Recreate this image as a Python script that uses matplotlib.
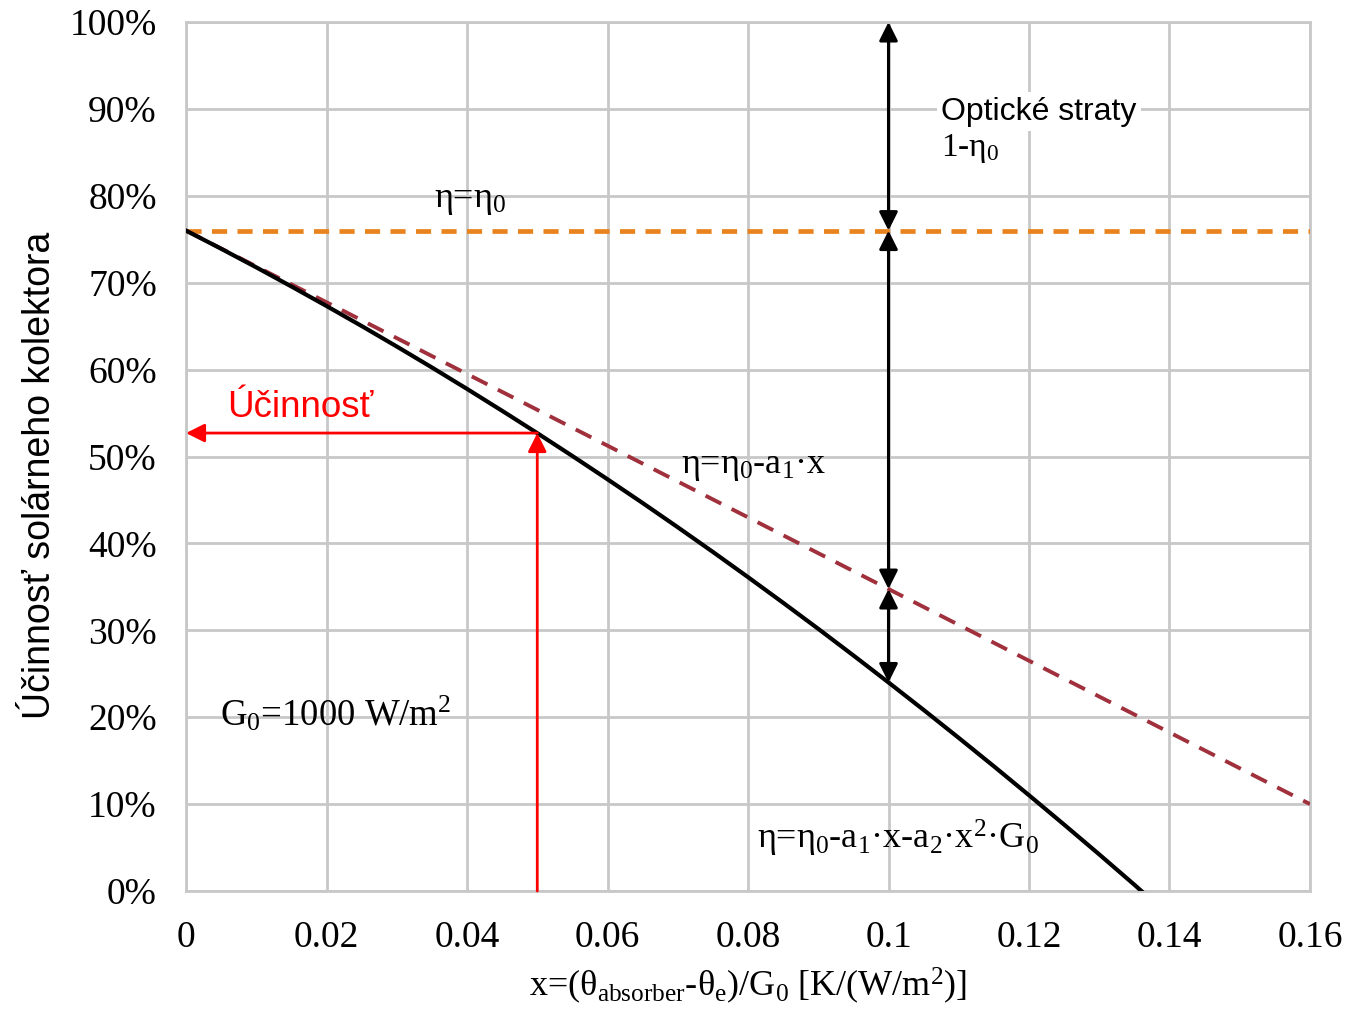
import numpy as np
import matplotlib
matplotlib.use("Agg")
import matplotlib.pyplot as plt

plt.rcParams['mathtext.fontset'] = 'custom'
plt.rcParams['mathtext.rm'] = 'Liberation Serif'
plt.rcParams['mathtext.it'] = 'Liberation Serif'
plt.rcParams['mathtext.bf'] = 'Liberation Serif:bold'

# data
x_ticks = [0, 0.02, 0.04, 0.06, 0.08, 0.10, 0.12, 0.14, 0.16]
x_tick_labels = ['0', '0.02', '0.04', '0.06', '0.08', '0.1', '0.12', '0.14', '0.16']
y_ticks = [0, 10, 20, 30, 40, 50, 60, 70, 80, 90, 100]

eta0_x = [0, 0.16]
eta0_y = [76, 76]

linear_x = [0, 0.16]
linear_y = [76, 10]

curve_x = [0, 0.005, 0.01, 0.015, 0.02, 0.025, 0.03, 0.035, 0.04, 0.045, 0.05,
           0.055, 0.06, 0.065, 0.07, 0.075, 0.08, 0.085, 0.09, 0.095, 0.10,
           0.105, 0.11, 0.115, 0.12, 0.125, 0.13, 0.135, 0.136]
curve_y = [76, 73.91, 71.77, 69.57, 67.32, 65.02, 62.66, 60.25, 57.78, 55.26, 52.69,
           50.06, 47.38, 44.65, 41.86, 39.02, 36.12, 33.17, 30.17, 27.11, 24.0,
           20.84, 17.62, 14.35, 11.02, 7.64, 4.21, 0.72, 0]

x_op = 0.05
eff_op = 52.7
loss_lin_at_01 = 34.75
loss_curve_at_01 = 24.0

fig = plt.figure(figsize=(13.48, 10.11), dpi=100)
ax = fig.add_axes([0.138, 0.1187, 0.8338, 0.8595])

ax.plot(eta0_x, eta0_y, color='#E8831E', lw=3.4, ls=(0, (3.2, 2.2)), zorder=3)
ax.plot(linear_x, linear_y, color='#A0303C', lw=2.8, ls=(0, (4.5, 3)), zorder=3)
ax.plot(curve_x, curve_y, color='black', lw=3.0, zorder=4)

def darrow(x, y1, y2, color='black'):
    ax.annotate('', xy=(x, y2), xytext=(x, y1),
                arrowprops=dict(arrowstyle='<|-|>', color=color, lw=2.2,
                                mutation_scale=28, shrinkA=0, shrinkB=0), zorder=5)

darrow(0.10, 76, 100)
darrow(0.10, 76, loss_lin_at_01)
darrow(0.10, loss_lin_at_01, loss_curve_at_01)

red = '#FF0000'
ax.annotate('', xy=(x_op, eff_op), xytext=(x_op, 0),
            arrowprops=dict(arrowstyle='-|>', color=red, lw=2.0,
                            mutation_scale=28, shrinkA=0, shrinkB=0), zorder=5)
ax.annotate('', xy=(0, eff_op), xytext=(x_op, eff_op),
            arrowprops=dict(arrowstyle='-|>', color=red, lw=2.0,
                            mutation_scale=28, shrinkA=0, shrinkB=0), zorder=5)

serif = 'Liberation Serif'
sans = 'Liberation Sans'
ax.text(0.0405, 79.5, r'η=η$_0$', fontsize=26, family=serif, ha='center', va='center')
ax.text(0.1075, 89.7, 'Optické straty', fontsize=23, family=sans, va='center',
        bbox=dict(facecolor='white', edgecolor='none', pad=3))
ax.text(0.1075, 85.5, r'1-η$_0$', fontsize=24, family=serif, va='center')
ax.text(0.0058, 55.6, 'Účinnosť', fontsize=26.5, family=sans, color=red, va='center')
ax.text(0.0705, 48.8, r'η=η$_0$-a$_1$·x', fontsize=26, family=serif, va='center')
ax.text(0.0048, 20.4, r'G$_0$=1000 W/m$^2$', fontsize=26.5, family=serif, va='center')
ax.text(0.0813, 6.1, r'η=η$_0$-a$_1$·x-a$_2$·x$^2$·G$_0$', fontsize=26, family=serif, va='center')

ax.set_xlim(0, 0.16)
ax.set_ylim(0, 100)
ax.set_xticks(x_ticks)
ax.set_xticklabels(x_tick_labels, family=serif, fontsize=27)
ax.set_yticks(y_ticks)
ax.set_yticklabels([f'{v}%' for v in y_ticks], family=serif, fontsize=27)
ax.tick_params(axis='y', length=0, pad=21)
ax.tick_params(axis='x', length=0, pad=21)
ax.grid(True, color='#C8C8C8', lw=2)
ax.set_axisbelow(True)
for s in ax.spines.values():
    s.set_color('#C8C8C8')
    s.set_linewidth(2)

ax.set_ylabel('Účinnosť solárneho kolektora', family=sans, fontsize=27, labelpad=8)
ax.yaxis.label.set_y(0.478)
ax.set_xlabel(r'x=(θ$_{\mathrm{absorber}}$-θ$_{\mathrm{e}}$)/G$_0$ [K/(W/m$^2$)]',
              family=serif, fontsize=26, labelpad=8)

fig.savefig('out.png', dpi=100)
